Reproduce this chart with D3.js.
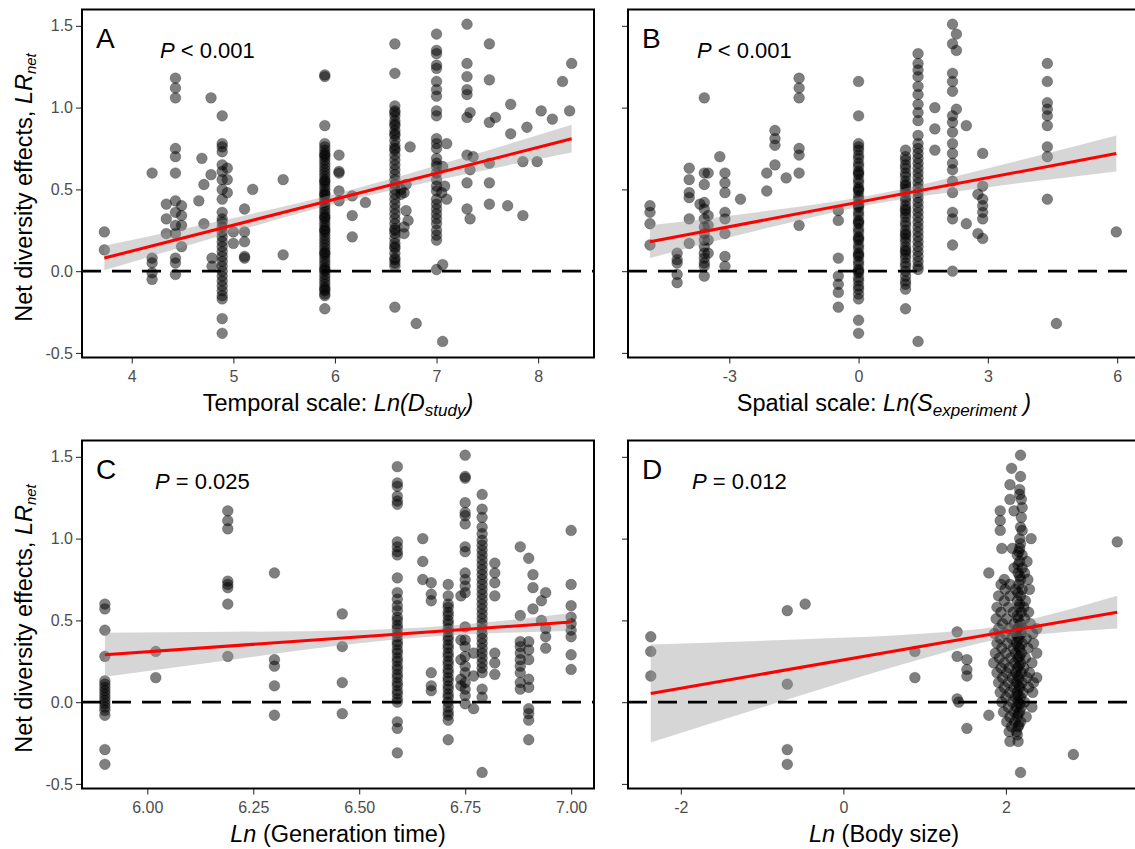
<!DOCTYPE html>
<html>
<head>
<meta charset="utf-8">
<script src="https://cdn.jsdelivr.net/npm/d3@7"></script>
<style>
  body { margin: 0; background: white; overflow: hidden; }
  svg { display: block; }
</style>
</head>
<body>
<div id="container"></div>
<script>
// ---- data ----
// points as [x, [y values at that x]]
const pointsA = [
  [3.73, [0.24, 0.13]],
  [4.20, [0.60, 0.08, 0.05, -0.01, -0.05]],
  [4.34, [0.41, 0.32, 0.23]],
  [4.43, [1.18, 1.12, 1.06, 0.75, 0.70, 0.60, 0.43, 0.36, 0.28, 0.23, 0.08, 0.05, -0.02]],
  [4.49, [0.40, 0.34, 0.28, 0.15]],
  [4.66, [0.43]], [4.69, [0.69]], [4.71, [0.53, 0.29]], [4.78, [1.06, 0.59]], [4.79, [0.08, 0.03]],
  [4.89, [0.95, 0.78, 0.76, 0.73, 0.65, 0.61, 0.56, 0.50, 0.44, 0.36, 0.32, 0.30, 0.27, 0.24, 0.21, 0.18, 0.15, 0.12, 0.09, 0.06, 0.03, 0.00, -0.03, -0.06, -0.09, -0.12, -0.15, -0.17, -0.29, -0.38]],
  [4.94, [0.63, 0.56, 0.48]],
  [5.00, [0.24, 0.17]],
  [5.11, [0.38, 0.24, 0.18, 0.09, 0.08]],
  [5.19, [0.50]], [5.49, [0.56, 0.10]],
  [5.90, [1.20, 1.19, 0.89, 0.78, 0.76, 0.74, 0.72, 0.70, 0.68, 0.66, 0.64, 0.62, 0.60, 0.58, 0.56, 0.54, 0.52, 0.50, 0.48, 0.46, 0.44, 0.42, 0.40, 0.38, 0.36, 0.34, 0.32, 0.30, 0.28, 0.26, 0.24, 0.22, 0.20, 0.18, 0.16, 0.14, 0.12, 0.10, 0.08, 0.06, 0.04, 0.02, 0.00, -0.02, -0.04, -0.06, -0.08, -0.10, -0.12, -0.14, -0.15, -0.23, 0.71, 0.55, 0.47, 0.33, 0.25, 0.11, 0.01, -0.11]],
  [6.04, [0.71, 0.61, 0.60, 0.49, 0.43]],
  [6.17, [0.46, 0.34, 0.21]],
  [6.30, [0.42]],
  [6.59, [1.39, 1.21, 1.01, 0.98, 0.95, 0.92, 0.89, 0.86, 0.83, 0.80, 0.77, 0.74, 0.71, 0.68, 0.65, 0.62, 0.59, 0.56, 0.53, 0.50, 0.47, 0.44, 0.41, 0.38, 0.35, 0.32, 0.29, 0.26, 0.23, 0.20, 0.17, 0.14, 0.11, 0.08, 0.05, 0.03, -0.22, 0.97, 0.90, 0.84, 0.75, 0.25, 0.15, 0.07]],
  [6.65, [0.50, 0.47]], [6.68, [0.48, 0.27, 0.23]], [6.70, [0.53, 0.37]], [6.72, [0.31]], [6.74, [0.76]], [6.80, [-0.32]],
  [7.00, [1.45, 1.35, 1.33, 1.26, 1.24, 1.16, 1.11, 1.07, 0.98, 0.95, 0.81, 0.78, 0.75, 0.69, 0.66, 0.64, 0.60, 0.56, 0.52, 0.49, 0.44, 0.41, 0.38, 0.35, 0.32, 0.29, 0.25, 0.22, 0.19, 0.01]],
  [7.05, [0.48]], [7.06, [0.64, 0.04, -0.43]], [7.08, [0.52]], [7.10, [0.78, 0.44]],
  [7.30, [1.51, 1.27, 1.19, 1.11, 1.08, 0.94, 0.71, 0.54, 0.38]],
  [7.33, [0.97, 0.62, 0.32]], [7.36, [0.70]],
  [7.52, [1.39, 1.17, 0.91, 0.66, 0.54, 0.41]], [7.58, [0.94]],
  [7.70, [0.40]], [7.73, [1.02, 0.84]], [7.85, [0.67, 0.34]], [7.89, [0.88]], [7.99, [0.67]],
  [8.03, [0.98]], [8.14, [0.93]], [8.24, [1.16]], [8.31, [0.98]], [8.33, [1.27]]
];

const pointsB = [
  [-4.84, [0.40, 0.36, 0.29, 0.16]],
  [-4.21, [0.11, 0.07, 0.05, -0.02, -0.07]],
  [-3.93, [0.63, 0.56, 0.48, 0.45, 0.32, 0.17]],
  [-3.68, [0.41]],
  [-3.58, [1.06, 0.60, 0.53, 0.42, 0.38, 0.32, 0.27, 0.23, 0.19, 0.15, 0.11, 0.08, 0.05, 0.03, -0.03]],
  [-3.49, [0.60, 0.34, 0.28, 0.19, 0.11]],
  [-3.22, [0.70]],
  [-3.10, [0.60, 0.54, 0.48, 0.36, 0.32, 0.23, 0.09, 0.03]],
  [-2.74, [0.44]],
  [-2.13, [0.60, 0.49]],
  [-1.94, [0.86, 0.81, 0.77, 0.65]],
  [-1.68, [0.57]],
  [-1.38, [1.18, 1.12, 1.06, 0.75, 0.71, 0.60, 0.28]],
  [-0.47, [0.37, 0.31, 0.08, -0.03, -0.08, -0.13, -0.22]],
  [0.00, [1.16, 0.95, 0.78, 0.76, 0.74, 0.71, 0.69, 0.66, 0.64, 0.61, 0.59, 0.56, 0.54, 0.51, 0.49, 0.46, 0.44, 0.41, 0.39, 0.36, 0.34, 0.31, 0.29, 0.26, 0.24, 0.21, 0.19, 0.16, 0.14, 0.11, 0.09, 0.06, 0.04, 0.01, -0.01, -0.04, -0.06, -0.09, -0.11, -0.14, -0.17, -0.30, -0.38, 0.60, 0.50, 0.40, 0.30, 0.20, 0.10, 0.00]],
  [1.09, [0.74, 0.70, 0.68, 0.65, 0.63, 0.60, 0.58, 0.55, 0.53, 0.50, 0.48, 0.45, 0.43, 0.40, 0.38, 0.35, 0.33, 0.30, 0.28, 0.25, 0.23, 0.20, 0.18, 0.15, 0.13, 0.10, 0.08, 0.05, 0.03, 0.00, -0.03, -0.06, -0.08, -0.11, -0.23, 0.52, 0.37, 0.22, 0.12]],
  [1.38, [1.33, 1.27, 1.23, 1.19, 1.13, 1.08, 1.02, 0.97, 0.92, 0.83, 0.78, 0.75, 0.72, 0.69, 0.66, 0.63, 0.60, 0.57, 0.54, 0.51, 0.48, 0.45, 0.42, 0.39, 0.36, 0.33, 0.30, 0.27, 0.24, 0.21, 0.18, 0.15, 0.12, 0.09, 0.06, 0.03, 0.01, -0.43]],
  [1.77, [1.00, 0.87, 0.74]],
  [2.18, [1.51, 1.39, 1.21, 1.16, 1.10, 0.95, 0.91, 0.85, 0.78, 0.72, 0.66, 0.62, 0.55, 0.48, 0.36, 0.32, 0.16, 0.00]],
  [2.27, [1.45, 1.35, 0.99]],
  [2.50, [0.89, 0.29]],
  [2.77, [0.47, 0.23]],
  [2.88, [0.72, 0.52, 0.44, 0.40, 0.36, 0.32, 0.20]],
  [4.38, [1.27, 1.16, 1.03, 0.99, 0.95, 0.89, 0.76, 0.70, 0.44]],
  [4.59, [-0.32]],
  [5.98, [0.24]]
];

const pointsC = [
  [5.90, [0.60, 0.57, 0.44, 0.28, 0.13, 0.11, 0.09, 0.07, 0.05, 0.03, 0.01, -0.01, -0.03, -0.05, -0.08, -0.29, -0.38]],
  [6.02, [0.31, 0.15]],
  [6.19, [1.17, 1.11, 1.06, 0.74, 0.72, 0.70, 0.60, 0.28]],
  [6.30, [0.79, 0.26, 0.22, 0.10, -0.08]],
  [6.46, [0.54, 0.34, 0.12, -0.07]],
  [6.59, [1.44, 1.34, 1.32, 1.26, 1.23, 1.21, 0.98, 0.95, 0.92, 0.90, 0.76, 0.67, 0.63, 0.59, 0.56, 0.52, 0.50, 0.47, 0.45, 0.42, 0.40, 0.37, 0.35, 0.32, 0.30, 0.27, 0.25, 0.22, 0.20, 0.17, 0.15, 0.12, 0.10, 0.07, 0.05, 0.02, 0.00, -0.12, -0.16, -0.31]],
  [6.65, [1.00, 0.86, 0.75]],
  [6.67, [0.73, 0.66, 0.62, 0.18, 0.10, 0.07]],
  [6.71, [0.72, 0.65, 0.60, 0.58, 0.55, 0.53, 0.50, 0.48, 0.45, 0.43, 0.40, 0.38, 0.35, 0.33, 0.30, 0.28, 0.25, 0.23, 0.20, 0.18, 0.15, 0.13, 0.10, 0.08, 0.05, 0.03, 0.00, -0.03, -0.06, -0.08, -0.11, -0.23]],
  [6.74, [0.65, 0.38, 0.26, 0.14, 0.10]],
  [6.75, [1.51, 1.38, 1.37, 1.22, 1.16, 1.14, 1.09, 0.95, 0.92, 0.79, 0.75, 0.71, 0.67, 0.46, 0.38, 0.34, 0.28, 0.22, 0.18, 0.12, 0.08, 0.04, -0.01]],
  [6.77, [0.30, 0.16, -0.04]],
  [6.79, [1.27, 1.18, 1.13, 1.07, 1.03, 0.99, 0.96, 0.93, 0.90, 0.87, 0.84, 0.81, 0.78, 0.75, 0.72, 0.69, 0.66, 0.63, 0.60, 0.57, 0.54, 0.51, 0.48, 0.45, 0.42, 0.39, 0.36, 0.33, 0.30, 0.27, 0.24, 0.21, 0.18, 0.08, 0.03, -0.43]],
  [6.82, [0.85, 0.79, 0.73, 0.65, 0.30, 0.24, 0.17]],
  [6.88, [0.95, 0.53, 0.37, 0.34, 0.30, 0.26, 0.22, 0.18, 0.12, 0.08]],
  [6.90, [0.88, 0.37, 0.32, 0.26, 0.14, 0.09, -0.04, -0.07, -0.11, -0.23]],
  [6.91, [0.78, 0.70, 0.57]],
  [6.93, [0.62, 0.50]],
  [6.94, [0.67, 0.45, 0.40, 0.33]],
  [7.00, [1.05, 0.72, 0.59, 0.52, 0.48, 0.44, 0.40, 0.29, 0.20]]
];

// panel D: scattered points as [x, y], the dense cluster as rows [y, [x values]]
const pointsD = [
  [-2.37, 0.40], [-2.37, 0.31], [-2.37, 0.16],
  [-0.69, 0.56], [-0.69, 0.11], [-0.69, -0.29], [-0.69, -0.38], [-0.47, 0.60],
  [0.88, 0.31], [0.88, 0.15],
  [1.40, 0.43], [1.40, 0.28], [1.40, 0.02], [1.42, 0.00],
  [1.52, 0.26], [1.52, 0.20], [1.52, 0.16], [1.52, -0.16],
  [1.79, 0.79], [1.79, -0.08],
  [2.83, -0.32], [3.37, 0.98]
];
const clusterD = [
  [1.51, [2.18]], [1.43, [2.07]], [1.38, [2.18]], [1.33, [2.05]], [1.30, [2.17]], [1.27, [2.17]],
  [1.24, [2.05, 2.19]], [1.19, [2.20]], [1.17, [1.93, 2.10]], [1.13, [2.19]], [1.11, [1.93]],
  [1.07, [2.18]], [1.05, [1.93, 2.20]], [1.00, [2.31, 2.17]], [0.97, [2.18]],
  [0.94, [1.95, 2.08, 2.17]], [0.90, [2.14, 2.20]], [0.86, [2.17, 2.26]], [0.82, [2.10, 2.20]],
  [0.79, [2.15, 2.23]], [0.75, [1.98, 2.18, 2.27]], [0.72, [1.94, 2.05, 2.16]],
  [0.69, [1.99, 2.12, 2.20, 2.29]], [0.65, [1.91, 2.05, 2.18]], [0.62, [1.98, 2.14, 2.24]],
  [0.58, [1.89, 2.03, 2.16, 2.22]], [0.55, [1.94, 2.09, 2.19, 2.28]], [0.51, [1.88, 2.01, 2.15, 2.23]],
  [0.48, [1.96, 2.10, 2.18, 2.30]], [0.45, [1.91, 2.04, 2.14, 2.21, 2.38]], [0.42, [1.86, 1.99, 2.12, 2.19, 2.33]],
  [0.39, [1.93, 2.07, 2.16, 2.25]], [0.36, [1.89, 2.02, 2.13, 2.20, 2.34]], [0.33, [1.95, 2.09, 2.17, 2.27]],
  [0.30, [1.87, 2.00, 2.12, 2.19, 2.38]], [0.27, [1.92, 2.06, 2.15, 2.24]], [0.24, [1.85, 1.98, 2.11, 2.18, 2.32]],
  [0.21, [1.94, 2.04, 2.14, 2.22]], [0.18, [1.89, 2.01, 2.12, 2.19, 2.29]], [0.15, [1.96, 2.08, 2.16, 2.26, 2.38]],
  [0.12, [1.91, 2.03, 2.13, 2.20, 2.34]], [0.09, [1.98, 2.10, 2.17, 2.28]], [0.06, [1.93, 2.05, 2.14, 2.21, 2.33]],
  [0.03, [2.00, 2.12, 2.18]], [0.00, [1.95, 2.08, 2.15, 2.23]], [-0.03, [2.03, 2.13, 2.19, 2.32]],
  [-0.06, [1.97, 2.10, 2.17]], [-0.09, [2.05, 2.14, 2.25]], [-0.12, [2.01, 2.11, 2.18]],
  [-0.15, [2.07, 2.15]], [-0.18, [2.04, 2.13]], [-0.24, [2.05, 2.15]], [-0.43, [2.18]],
  // darker core of the cluster
  [0.92, [2.16]], [0.84, [2.15]], [0.77, [2.17]], [0.67, [2.15]], [0.60, [2.17]], [0.53, [2.14]],
  [0.46, [2.16]], [0.40, [2.14]], [0.34, [2.15]], [0.28, [2.17]], [0.22, [2.16]], [0.16, [2.14]],
  [0.10, [2.16]], [0.04, [2.15]], [-0.01, [2.17]], [-0.07, [2.15]], [-0.14, [2.16]], [-0.20, [2.14]]
];

// fitted lm lines (end points) and 95% CI band
const fitXA = [3.73, 8.33], fitYA = [0.08, 0.81];
const bandXA = [3.73, 4.9, 6.1, 7.2, 8.33];
const bandLoA = [0.005, 0.221, 0.427, 0.582, 0.725];
const bandHiA = [0.155, 0.311, 0.487, 0.682, 0.895];

const fitXB = [-4.84, 5.98], fitYB = [0.18, 0.72];
const bandXB = [-4.84, -2.3, 0.3, 3.1, 5.98];
const bandLoB = [0.08, 0.252, 0.408, 0.516, 0.61];
const bandHiB = [0.28, 0.362, 0.464, 0.636, 0.83];

const fitXC = [5.90, 7.00], fitYC = [0.29, 0.49];
const bandXC = [5.90, 6.2, 6.5, 6.7, 7.00];
const bandLoC = [0.155, 0.26, 0.36, 0.406, 0.435];
const bandHiC = [0.425, 0.43, 0.44, 0.466, 0.545];

const fitXD = [-2.37, 3.37], fitYD = [0.053, 0.55];
const bandXD = [-2.37, -0.5, 1.0, 1.9, 2.6, 3.37];
const bandLoD = [-0.247, 0.045, 0.27, 0.383, 0.423, 0.45];
const bandHiD = [0.353, 0.385, 0.42, 0.463, 0.543, 0.65];

// tick values
const yTicks = [-0.5, 0.0, 0.5, 1.0, 1.5];
const xTicksA = [4, 5, 6, 7, 8];
const xTicksB = [-3, 0, 3, 6];
const xTicksC = [6.00, 6.25, 6.50, 6.75, 7.00];
const xTicksD = [-2, 0, 2];

const pLabels = ['< 0.001', '< 0.001', '= 0.025', '= 0.012'];

// ---- layout ----
let W = 1145, H = 849;
let pw = 512, ph = 348;
let font = '"Liberation Sans", Arial, Helvetica, sans-serif';

let viz = d3.select('#container')
  .append('svg')
    .attr('width', W)
    .attr('height', H)
    .style('background', 'white');

function flatCols(cols) {
  let out = [];
  cols.forEach(c => c[1].forEach(v => out.push([c[0], v])));
  return out;
}
function flatRows(rows) {
  let out = [];
  rows.forEach(r => r[1].forEach(v => out.push([v, r[0]])));
  return out;
}
// ggplot style labels use a plain hyphen for negatives
function fmt(spec) {
  let f = d3.format(spec);
  return d => f(d).replace('\u2212', '-');
}

let panels = [
  {letter: 'A', left: 82, top: 9.5, xDomain: [3.51, 8.55], xTicks: xTicksA, fmt: fmt('d'),
   pts: flatCols(pointsA), fitX: fitXA, fitY: fitYA, bx: bandXA, blo: bandLoA, bhi: bandHiA,
   yLab: true, pDx: 78, p: pLabels[0]},
  {letter: 'B', left: 628, top: 9.5, xDomain: [-5.35, 6.53], xTicks: xTicksB, fmt: fmt('d'),
   pts: flatCols(pointsB), fitX: fitXB, fitY: fitYB, bx: bandXB, blo: bandLoB, bhi: bandHiB,
   yLab: false, pDx: 69, p: pLabels[1]},
  {letter: 'C', left: 82, top: 440.5, xDomain: [5.846, 7.054], xTicks: xTicksC, fmt: fmt('.2f'),
   pts: flatCols(pointsC), fitX: fitXC, fitY: fitYC, bx: bandXC, blo: bandLoC, bhi: bandHiC,
   yLab: true, pDx: 73, p: pLabels[2]},
  {letter: 'D', left: 628, top: 440.5, xDomain: [-2.65, 3.65], xTicks: xTicksD, fmt: fmt('d'),
   pts: pointsD.concat(flatRows(clusterD)), fitX: fitXD, fitY: fitYD, bx: bandXD, blo: bandLoD, bhi: bandHiD,
   yLab: false, pDx: 64, p: pLabels[3]}
];

function drawPanel(p) {
  let x = d3.scaleLinear().domain(p.xDomain).range([p.left, p.left + pw]);
  let y = d3.scaleLinear().domain([-0.528, 1.60]).range([p.top + ph, p.top]);
  let g = viz.append('g');

  // points
  g.append('g').selectAll('circle')
    .data(p.pts)
    .enter().append('circle')
      .attr('cx', d => x(d[0]))
      .attr('cy', d => y(d[1]))
      .attr('r', 5.4)
      .attr('fill', 'black')
      .attr('fill-opacity', 0.5)
      .attr('stroke', 'black')
      .attr('stroke-opacity', 0.25)
      .attr('stroke-width', 0.8);

  // CI ribbon
  let area = d3.area()
    .x(d => x(d[0]))
    .y0(d => y(d[1]))
    .y1(d => y(d[2]))
    .curve(d3.curveMonotoneX);
  g.append('path')
    .datum(d3.zip(p.bx, p.blo, p.bhi))
    .attr('d', area)
    .attr('fill', '#999999')
    .attr('fill-opacity', 0.4);

  // fitted line
  g.append('line')
    .attr('x1', x(p.fitX[0])).attr('x2', x(p.fitX[1]))
    .attr('y1', y(p.fitY[0])).attr('y2', y(p.fitY[1]))
    .attr('stroke', '#ff0000')
    .attr('stroke-width', 3);

  // zero reference line
  g.append('line')
    .attr('x1', p.left).attr('x2', p.left + pw)
    .attr('y1', y(0)).attr('y2', y(0))
    .style('stroke', 'black')
    .style('stroke-width', 2.6)
    .style('stroke-dasharray', ('19,11'));

  // axes
  let gx = g.append('g')
    .attr('transform', 'translate(0,' + (p.top + ph) + ')')
    .call(d3.axisBottom(x).tickValues(p.xTicks).tickFormat(p.fmt).tickSize(6).tickPadding(7));
  let gy = g.append('g')
    .attr('transform', 'translate(' + p.left + ',0)')
    .call(d3.axisLeft(y).tickValues(yTicks).tickFormat(fmt('.1f')).tickSize(6).tickPadding(3));
  [gx, gy].forEach(a => {
    a.select('.domain').remove();
    a.selectAll('line').attr('stroke', '#333333').attr('stroke-width', 1.1);
    a.selectAll('text').attr('font-family', font).attr('font-size', 16).attr('fill', '#4d4d4d');
  });
  if (!p.yLab) gy.selectAll('text').remove();

  // border
  g.append('rect')
    .attr('x', p.left).attr('y', p.top)
    .attr('width', pw).attr('height', ph)
    .attr('fill', 'none')
    .attr('stroke', 'black')
    .attr('stroke-width', 2);

  // panel letter and P value
  g.append('text')
    .attr('x', p.left + 14).attr('y', p.top + 38)
    .attr('font-family', font).attr('font-size', 28)
    .text(p.letter);
  let pt = g.append('text')
    .attr('x', p.left + p.pDx).attr('y', p.top + 48)
    .attr('font-family', font).attr('font-size', 22);
  pt.append('tspan').attr('font-style', 'italic').text('P');
  pt.append('tspan').text(' ' + p.p);
}

panels.forEach(drawPanel);

// ---- axis titles ----
function xTitle(p, parts) {
  let t = viz.append('text')
    .attr('x', p.left + pw / 2).attr('y', p.top + ph + 53)
    .attr('text-anchor', 'middle')
    .attr('font-family', font).attr('font-size', 23.5);
  parts.forEach(s => {
    let ts = t.append('tspan').text(s.t);
    if (s.i) ts.attr('font-style', 'italic');
    if (s.sub) ts.attr('font-size', 17).attr('dy', 5);
    if (s.up) ts.attr('dy', -5);
  });
}
xTitle(panels[0], [{t: 'Temporal scale: '}, {t: 'Ln(D', i: 1}, {t: 'study', i: 1, sub: 1}, {t: ')', i: 1, up: 1}]);
xTitle(panels[1], [{t: 'Spatial scale: '}, {t: 'Ln(S', i: 1}, {t: 'experiment', i: 1, sub: 1}, {t: ' )', i: 1, up: 1}]);
xTitle(panels[2], [{t: 'Ln', i: 1}, {t: ' (Generation time)'}]);
xTitle(panels[3], [{t: 'Ln', i: 1}, {t: ' (Body size)'}]);

[panels[0], panels[2]].forEach(p => {
  let t = viz.append('text')
    .attr('transform', 'translate(32,' + (p.top + ph / 2 + 4) + ') rotate(-90)')
    .attr('text-anchor', 'middle')
    .attr('font-family', font).attr('font-size', 23.5);
  t.append('tspan').text('Net diversity effects, ');
  t.append('tspan').attr('font-style', 'italic').text('LR');
  t.append('tspan').attr('font-style', 'italic').attr('font-size', 15).attr('dy', 4).text('net');
});
</script>
</body>
</html>
